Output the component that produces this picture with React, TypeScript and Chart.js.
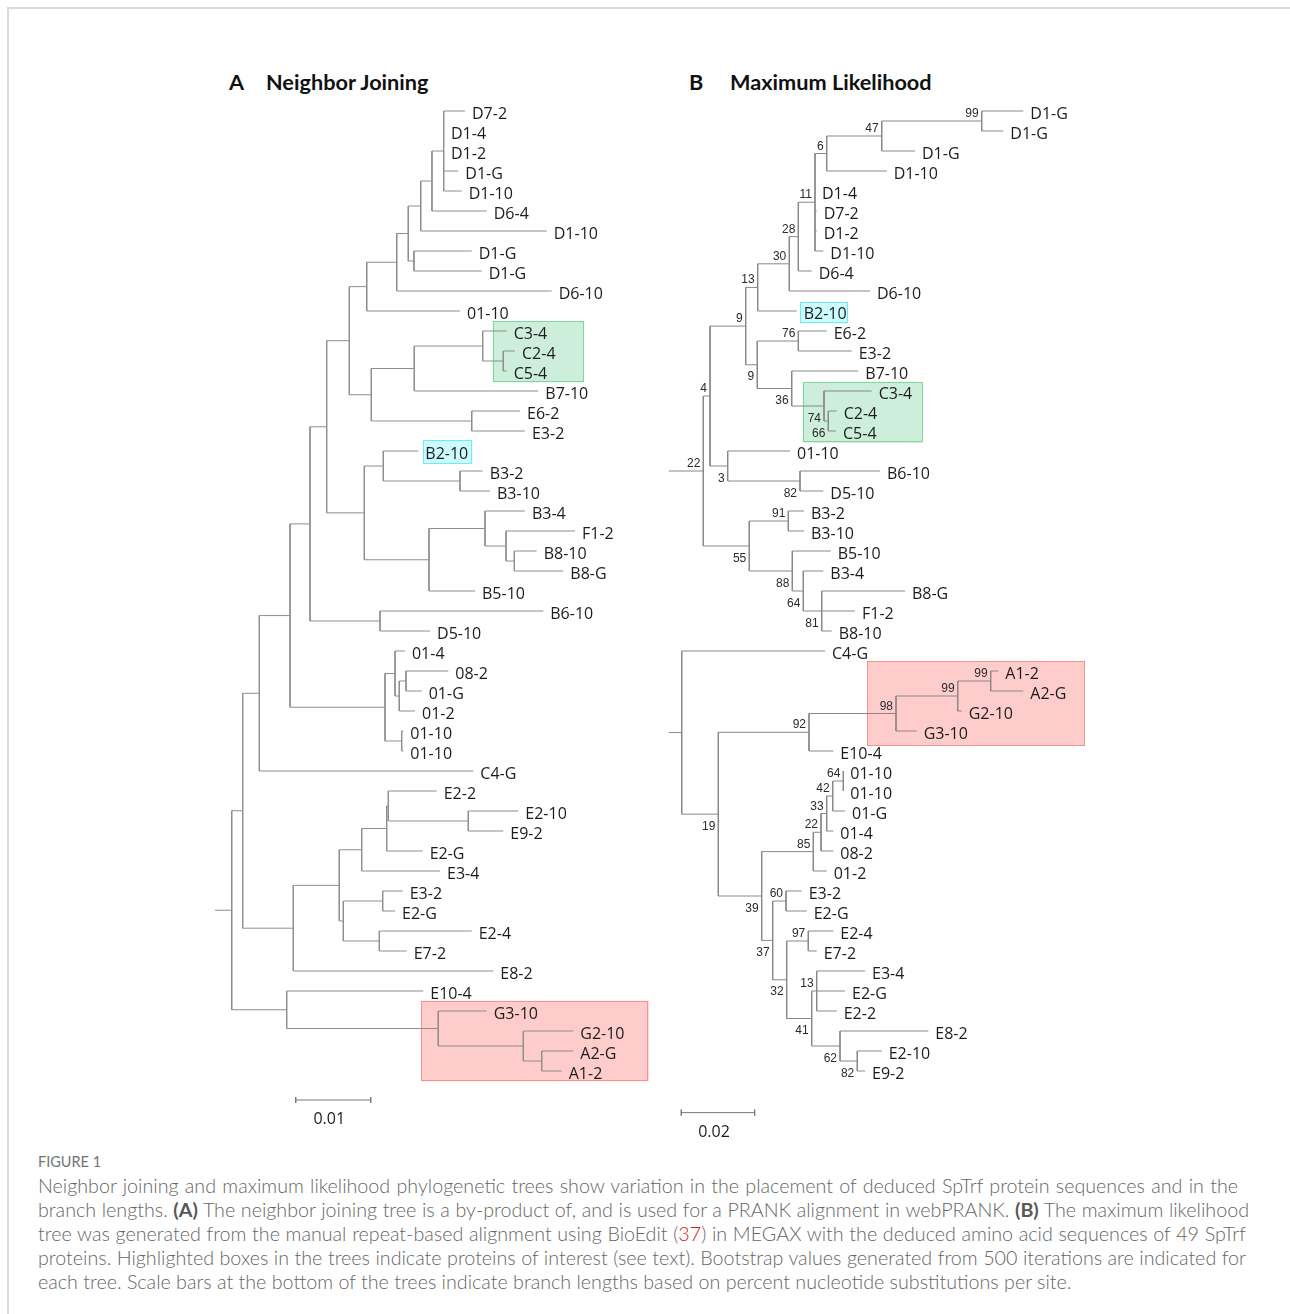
import React, { useEffect, useRef } from "react";
import { Chart, registerables } from "chart.js";

Chart.register(...registerables);

// ================= DATA =================
// Tree A (Neighbor Joining): leaves in display order (row 0 = top)
const leavesA = ["D7-2","D1-4","D1-2","D1-G","D1-10","D6-4","D1-10","D1-G","D1-G","D6-10","01-10","C3-4","C2-4","C5-4","B7-10","E6-2","E3-2","B2-10","B3-2","B3-10","B3-4","F1-2","B8-10","B8-G","B5-10","B6-10","D5-10","01-4","08-2","01-G","01-2","01-10","01-10","C4-G","E2-2","E2-10","E9-2","E2-G","E3-4","E3-2","E2-G","E2-4","E7-2","E8-2","E10-4","G3-10","G2-10","A2-G","A1-2"];
// cumulative distance from the tree origin to each tip
const leafDepthA = [0.03333,0.03053,0.03053,0.03244,0.03289,0.03623,0.04423,0.03423,0.03556,0.04489,
  0.03267,0.03889,0.04000,0.03889,0.04311,0.04067,0.04133,0.02711,0.03569,0.03667,
  0.04133,0.04800,0.04289,0.04644,0.03467,0.04377,0.02867,0.02533,0.03111,0.02756,
  0.02667,0.02511,0.02511,0.03444,0.02956,0.04044,0.03844,0.02769,0.03000,0.02503,
  0.02400,0.03423,0.02556,0.03711,0.02777,0.03623,0.04777,0.04777,0.04623];
// internal node index that each leaf hangs from
const leafParentA = [12,12,12,12,12,11,10,13,13,8,
  7,16,17,17,15,18,18,20,21,21,
  23,24,25,25,22,26,26,28,30,30,
  29,31,31,2,36,37,37,35,34,39,
  39,40,40,32,41,42,43,44,44];
// internal nodes: cumulative distance and parent (-1 = root)
const nodeDepthA = [0.00223,0.00369,0.00591,0.01000,0.01267,0.01489,0.01791,0.02023,0.02423,0.02577,
  0.02743,0.02893,0.03049,0.02653,0.02084,0.02657,0.03569,0.03844,0.03423,0.01991,
  0.02244,0.03267,0.02853,0.03600,0.03880,0.03991,0.02200,0.02267,0.02400,0.02457,
  0.02547,0.02489,0.01044,0.01657,0.01956,0.02289,0.02311,0.03377,0.01711,0.02236,
  0.02191,0.00956,0.02977,0.04111,0.04356];
const nodeParentA = [-1,0,1,2,3,4,5,6,7,8,
  9,10,11,9,6,14,15,16,14,5,
  19,20,19,22,23,24,4,3,27,28,
  29,27,1,32,33,34,35,36,33,38,
  38,0,41,42,43];
// highlighted groups: kind, row span, distance span
const highlightKindsA = ["green","cyan","red"];
const highlightRowsA = [[10.5,13.57],[16.45,17.65],[44.49,48.51]];
const highlightDepthA = [[0.03703,0.04911],[0.02777,0.03436],[0.02751,0.05783]];
const scaleBarA = { start: 0.01076, length: 0.01, row: 49.45, label: "0.01" };

// Tree B (Maximum Likelihood)
const leavesB = ["D1-G","D1-G","D1-G","D1-10","D1-4","D7-2","D1-2","D1-10","D6-4","D6-10","B2-10","E6-2","E3-2","B7-10","C3-4","C2-4","C5-4","01-10","B6-10","D5-10","B3-2","B3-10","B5-10","B3-4","B8-G","F1-2","B8-10","C4-G","A1-2","A2-G","G2-10","G3-10","E10-4","01-10","01-10","01-G","01-4","08-2","01-2","E3-2","E2-G","E2-4","E7-2","E3-4","E2-G","E2-2","E8-2","E2-10","E9-2"];
const leafDepthB = [0.09667,0.09122,0.06714,0.05942,0.03987,0.04033,0.04033,0.04213,0.03897,0.05487,
  0.03488,0.04306,0.04988,0.05168,0.05533,0.04579,0.04560,0.03305,0.05760,0.04213,
  0.03687,0.03687,0.04415,0.04213,0.06441,0.05078,0.04442,0.04260,0.08986,0.09667,
  0.07988,0.06760,0.04486,0.04759,0.04759,0.04805,0.04486,0.04486,0.04306,0.03624,
  0.03761,0.04486,0.04033,0.05350,0.04805,0.04579,0.07077,0.05806,0.05350];
const leafParentB = [9,9,8,7,6,6,6,6,5,4,
  3,11,11,12,13,14,14,15,16,16,
  18,18,19,20,21,21,21,22,27,27,
  26,25,24,33,33,32,31,30,29,35,
  35,37,37,39,39,39,40,41,41];
const nodeDepthB = [0.00941,0.01124,0.02097,0.02424,0.03286,0.03532,0.03987,0.04306,0.05806,0.08533,
  0.02413,0.03532,0.03352,0.04232,0.04350,0.01606,0.03578,0.02195,0.03259,0.03368,
  0.03668,0.04170,0.00352,0.01350,0.03823,0.06196,0.07878,0.08778,0.02533,0.03941,
  0.04151,0.04306,0.04470,0.04759,0.02833,0.03196,0.03215,0.03804,0.03897,0.04033,
  0.04669,0.05140];
const nodeParentB = [-1,0,1,2,3,4,5,6,7,8,
  2,10,10,12,13,1,15,0,17,17,
  19,20,-1,22,23,24,25,26,23,28,
  29,30,31,32,28,34,34,36,36,38,
  38,40];
const bootstrapB: (number | null)[] = [22,4,9,13,30,28,11,6,47,99,
  9,76,36,74,66,3,82,55,91,88,
  64,81,null,19,92,98,99,99,39,85,
  22,33,42,64,37,60,32,97,41,13,
  62,82];
const highlightKindsB = ["cyan","green","red"];
const highlightRowsB = [[9.57,10.62],[13.57,16.59],[27.5,31.74]];
const highlightDepthB = [[0.03578,0.04895],[0.03651,0.06924],[0.05413,0.11350]];
const scaleBarB = { start: 0.00341, length: 0.02, row: 50.08, label: "0.02" };

// ================= LAYOUT / STYLE =================
const ROW0_PX = 111;
const ROW_PX = 20;
const CANVAS_TOP = 95;
const CANVAS_H = 1050;
const HIGHLIGHT_STYLE: Record<string, { fill: string; stroke: string }> = {
  green: { fill: "#cdeedb", stroke: "#80d69c" },
  cyan: { fill: "#ccfcff", stroke: "#72eaf6" },
  red: { fill: "#ffcccc", stroke: "#f49292" },
};
const LEAF_FONT = '16px "Open Sans", sans-serif';
const BOOT_FONT = '12px "Liberation Sans", Arial, sans-serif';

type Spec = {
  leaves: string[]; leafDepth: number[]; leafParent: number[];
  nodeDepth: number[]; nodeParent: number[]; bootstrap: (number | null)[] | null;
  hKinds: string[]; hRows: number[][]; hDepth: number[][];
  bar: { start: number; length: number; row: number; label: string };
  left: number; width: number; originPx: number; pxPerUnit: number; lineColor: string;
};

const specA: Spec = {
  leaves: leavesA, leafDepth: leafDepthA, leafParent: leafParentA,
  nodeDepth: nodeDepthA, nodeParent: nodeParentA, bootstrap: null,
  hKinds: highlightKindsA, hRows: highlightRowsA, hDepth: highlightDepthA, bar: scaleBarA,
  left: 200, width: 460, originPx: 215, pxPerUnit: 7500, lineColor: "#8e8e8e",
};
const specB: Spec = {
  leaves: leavesB, leafDepth: leafDepthB, leafParent: leafParentB,
  nodeDepth: nodeDepthB, nodeParent: nodeParentB, bootstrap: bootstrapB,
  hKinds: highlightKindsB, hRows: highlightRowsB, hDepth: highlightDepthB, bar: scaleBarB,
  left: 660, width: 440, originPx: 668.8, pxPerUnit: 3667, lineColor: "#888888",
};

type Child = { leaf: boolean; i: number };

function buildTree(s: Spec) {
  const nN = s.nodeDepth.length;
  const children: Child[][] = s.nodeDepth.map(() => []);
  s.leafParent.forEach((p, i) => children[p].push({ leaf: true, i }));
  s.nodeParent.forEach((p, i) => { if (p >= 0) children[p].push({ leaf: false, i }); });
  const minRow = new Array(nN).fill(Infinity);
  const nodeY = new Array(nN).fill(NaN);
  const rowOf = (c: Child) => (c.leaf ? c.i : minRow[c.i]);
  const yOf = (c: Child) => (c.leaf ? c.i : nodeY[c.i]);
  const depthOf = (c: Child) => (c.leaf ? s.leafDepth[c.i] : s.nodeDepth[c.i]);
  const calc = (n: number) => {
    children[n].forEach((c) => { if (!c.leaf) calc(c.i); });
    children[n].sort((a, b) => rowOf(a) - rowOf(b));
    minRow[n] = rowOf(children[n][0]);
    nodeY[n] = (yOf(children[n][0]) + yOf(children[n][children[n].length - 1])) / 2;
  };
  const roots: number[] = [];
  s.nodeParent.forEach((p, i) => { if (p < 0) roots.push(i); });
  roots.forEach(calc);
  const firstChild = new Array(nN).fill(false);
  const segs: { x: number; y: number }[] = [];
  const gap = () => segs.push({ x: NaN, y: NaN });
  roots.forEach((r) => {
    firstChild[r] = true;
    segs.push({ x: 0, y: nodeY[r] }, { x: s.nodeDepth[r], y: nodeY[r] });
    gap();
  });
  for (let n = 0; n < nN; n++) {
    const ch = children[n];
    const d = s.nodeDepth[n];
    segs.push({ x: d, y: yOf(ch[0]) }, { x: d, y: yOf(ch[ch.length - 1]) });
    gap();
    ch.forEach((c, k) => {
      if (!c.leaf && k === 0) firstChild[c.i] = true;
      segs.push({ x: d, y: yOf(c) }, { x: depthOf(c), y: yOf(c) });
      gap();
    });
  }
  return { segs, nodeY, firstChild };
}

function TreeChart({ spec }: { spec: Spec }) {
  const ref = useRef<HTMLCanvasElement | null>(null);
  useEffect(() => {
    const s = spec;
    const { segs, nodeY, firstChild } = buildTree(s);
    const xMin = (s.left - s.originPx) / s.pxPerUnit;
    const xMax = (s.left + s.width - s.originPx) / s.pxPerUnit;
    const yMin = (CANVAS_TOP - ROW0_PX) / ROW_PX;
    const yMax = (CANVAS_TOP + CANVAS_H - ROW0_PX) / ROW_PX;
    const b = s.bar;
    const tick = 0.15;
    const barPts = [
      { x: b.start, y: b.row }, { x: b.start + b.length, y: b.row }, { x: NaN, y: NaN },
      { x: b.start, y: b.row - tick }, { x: b.start, y: b.row + tick }, { x: NaN, y: NaN },
      { x: b.start + b.length, y: b.row - tick }, { x: b.start + b.length, y: b.row + tick },
    ];
    const decor = {
      id: "treeDecor",
      beforeDatasetsDraw(chart: any) {
        const ctx = chart.ctx;
        const xs = chart.scales.x, ys = chart.scales.y;
        ctx.save();
        s.hKinds.forEach((kind, i) => {
          const st = HIGHLIGHT_STYLE[kind];
          const x0 = xs.getPixelForValue(s.hDepth[i][0]);
          const x1 = xs.getPixelForValue(s.hDepth[i][1]);
          const y0 = ys.getPixelForValue(s.hRows[i][0]);
          const y1 = ys.getPixelForValue(s.hRows[i][1]);
          ctx.fillStyle = st.fill;
          ctx.fillRect(x0, y0, x1 - x0, y1 - y0);
          ctx.strokeStyle = st.stroke;
          ctx.lineWidth = 1;
          ctx.strokeRect(Math.round(x0) + 0.5, Math.round(y0) + 0.5, Math.round(x1 - x0) - 1, Math.round(y1 - y0) - 1);
        });
        ctx.restore();
      },
      afterDatasetsDraw(chart: any) {
        const ctx = chart.ctx;
        const xs = chart.scales.x, ys = chart.scales.y;
        ctx.save();
        ctx.font = LEAF_FONT;
        ctx.fillStyle = "#1c1c1c";
        ctx.textAlign = "left";
        ctx.textBaseline = "alphabetic";
        s.leaves.forEach((name, i) => {
          ctx.fillText(name, xs.getPixelForValue(s.leafDepth[i]) + 7, ys.getPixelForValue(i) + 7.5);
        });
        if (s.bootstrap) {
          ctx.font = BOOT_FONT;
          ctx.fillStyle = "#2a2a2a";
          ctx.textAlign = "right";
          s.bootstrap.forEach((v, n) => {
            if (v === null) return;
            const x = xs.getPixelForValue(s.nodeDepth[n]) - 3;
            const y = ys.getPixelForValue(nodeY[n]);
            ctx.fillText(String(v), x, firstChild[n] ? y - 4 : y + 15.5);
          });
        }
        ctx.font = LEAF_FONT;
        ctx.fillStyle = "#1c1c1c";
        ctx.textAlign = "center";
        const cx = xs.getPixelForValue(b.start + b.length / 2) - 4;
        ctx.fillText(b.label, cx, ys.getPixelForValue(b.row) + 24);
        ctx.restore();
      },
    };
    const chart = new Chart(ref.current as HTMLCanvasElement, {
      type: "scatter",
      data: {
        datasets: [
          { data: segs, showLine: true, borderColor: s.lineColor, borderWidth: 1, pointRadius: 0, spanGaps: false } as any,
          { data: barPts, showLine: true, borderColor: "#7a7a7a", borderWidth: 1, pointRadius: 0, spanGaps: false } as any,
        ],
      },
      options: {
        animation: false,
        responsive: false,
        maintainAspectRatio: false,
        devicePixelRatio: 1,
        events: [],
        layout: { padding: 0 },
        plugins: { legend: { display: false }, tooltip: { enabled: false } },
        scales: {
          x: { type: "linear", display: false, min: xMin, max: xMax },
          y: { type: "linear", display: false, reverse: true, min: yMin, max: yMax },
        },
      },
      plugins: [decor],
    });
    return () => chart.destroy();
  }, [spec]);
  return (
    <canvas
      ref={ref}
      width={spec.width}
      height={CANVAS_H}
      style={{ position: "absolute", left: spec.left, top: CANVAS_TOP, width: spec.width, height: CANVAS_H }}
    />
  );
}

const titleStyle: React.CSSProperties = {
  position: "absolute", top: 70, font: 'bold 21.7px Lato, sans-serif', lineHeight: "24px", color: "#111", whiteSpace: "nowrap",
};
const capStyle: React.CSSProperties = {
  position: "absolute", left: 38, fontFamily: "Lato, sans-serif", fontSize: "19.7px", fontWeight: 300,
  lineHeight: "24px", color: "#666666", whiteSpace: "nowrap",
};
const bold: React.CSSProperties = { fontWeight: "bold", color: "#585858" };

export default function App() {
  const lineWidths = [1200, 1211, 1208, 1208];
  const lines: React.ReactNode[] = [
    <>Neighbor joining and maximum likelihood phylogenetic trees show variation in the placement of deduced SpTrf protein sequences and in the</>,
    <>branch lengths. <span style={bold}>(A)</span> The neighbor joining tree is a by-product of, and is used for a PRANK alignment in webPRANK. <span style={bold}>(B)</span> The maximum likelihood</>,
    <>tree was generated from the manual repeat-based alignment using BioEdit (<span style={{ color: "#e3151a" }}>37</span>) in MEGAX with the deduced amino acid sequences of 49 SpTrf</>,
    <>proteins. Highlighted boxes in the trees indicate proteins of interest (see text). Bootstrap values generated from 500 iterations are indicated for</>,
    <>each tree. Scale bars at the bottom of the trees indicate branch lengths based on percent nucleotide substitutions per site.</>,
  ];
  return (
    <div style={{ position: "fixed", left: 0, top: 0, width: 1290, height: 1314, background: "#fff", overflow: "hidden" }}>
      <div style={{ position: "absolute", left: 7, top: 7, width: 1300, height: 1330, borderTop: "2px solid #dadada", borderLeft: "2px solid #dadada" }} />
      <div style={{ ...titleStyle, left: 229 }}>A</div>
      <div style={{ ...titleStyle, left: 266 }}>Neighbor Joining</div>
      <div style={{ ...titleStyle, left: 689 }}>B</div>
      <div style={{ ...titleStyle, left: 730 }}>Maximum Likelihood</div>
      <TreeChart spec={specA} />
      <TreeChart spec={specB} />
      <div style={{ position: "absolute", left: 38, top: 1153, font: '14.5px Lato, sans-serif', lineHeight: "18px", color: "#737373" }}>FIGURE 1</div>
      {lines.map((ln, i) => (
        <div
          key={i}
          style={{
            ...capStyle,
            top: 1174 + i * 24,
            width: i < 4 ? lineWidths[i] : undefined,
            textAlign: i < 4 ? "justify" : "left",
            textAlignLast: i < 4 ? "justify" : "left",
          }}
        >
          {ln}
        </div>
      ))}
    </div>
  );
}
